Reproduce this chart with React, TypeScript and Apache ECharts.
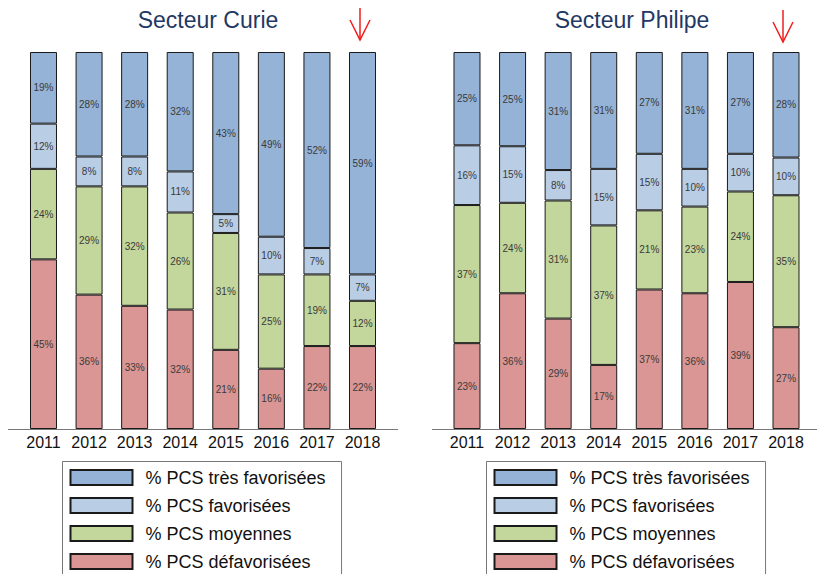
import React, { useEffect, useRef } from "react";
import * as echarts from "echarts";

const years = ["2011", "2012", "2013", "2014", "2015", "2016", "2017", "2018"];
const seriesNames = ["% PCS très favorisées", "% PCS favorisées", "% PCS moyennes", "% PCS défavorisées"];
const colors = ["#95B3D7", "#B9CDE5", "#C3D69B", "#D99694"];

const curieTresFav = [19, 28, 28, 32, 43, 49, 52, 59];
const curieFav = [12, 8, 8, 11, 5, 10, 7, 7];
const curieMoy = [24, 29, 32, 26, 31, 25, 19, 12];
const curieDefav = [45, 36, 33, 32, 21, 16, 22, 22];

const philTresFav = [25, 25, 31, 31, 27, 31, 27, 28];
const philFav = [16, 15, 8, 15, 15, 10, 10, 10];
const philMoy = [37, 24, 31, 37, 21, 23, 24, 35];
const philDefav = [23, 36, 29, 17, 37, 36, 39, 27];

const titles = ["Secteur Curie", "Secteur Philipe"];

const FONT = "'Liberation Sans', Arial, sans-serif";

function buildSeries(groups: number[][], axisIndex: number) {
  const totals = years.map((_, i) => groups.reduce((s, g) => s + g[i], 0));
  const order = [3, 2, 1, 0];
  return order.map((k) => ({
    type: "bar",
    name: seriesNames[k],
    xAxisIndex: axisIndex,
    yAxisIndex: axisIndex,
    stack: "s" + axisIndex,
    barWidth: 27,
    itemStyle: { color: colors[k], borderColor: "#1a1a1a", borderWidth: 1 },
    label: {
      show: true,
      position: "inside",
      fontSize: 10,
      fontFamily: FONT,
      color: "#3a3a3a",
      formatter: (p: any) => p.data.raw + "%",
    },
    data: groups[k].map((v, i) => ({ value: (v / totals[i]) * 100, raw: v })),
  }));
}

export default function App() {
  const ref = useRef<HTMLDivElement>(null);
  useEffect(() => {
    if (!ref.current) return;
    const chart = echarts.init(ref.current, undefined, { renderer: "svg" });
    const gridTop = 52;
    const gridH = 377;
    const grids = [
      { left: 20.7, top: gridTop, width: 364.6, height: gridH },
      { left: 444.2, top: gridTop, width: 364.6, height: gridH },
    ];
    const xAxes = grids.map((_, i) => ({
      type: "category",
      gridIndex: i,
      data: years,
      axisLine: { show: false },
      axisTick: { show: false },
      axisLabel: { interval: 0, fontSize: 16, color: "#111", fontFamily: FONT, margin: 5 },
    }));
    const yAxes = grids.map((_, i) => ({
      type: "value",
      gridIndex: i,
      min: 0,
      max: 100,
      show: false,
      splitLine: { show: false },
    }));
    const legendCommon = {
      orient: "vertical",
      top: 461.5,
      itemWidth: 62,
      itemHeight: 15,
      itemGap: 10,
      borderColor: "#777",
      borderWidth: 1,
      padding: [7, 16, 10, 7],
      icon: "rect",
      textStyle: { fontSize: 18, color: "#111", fontFamily: FONT, padding: [0, 0, 0, 8] },
      data: seriesNames,
      selectedMode: false,
    };
    chart.setOption({
      animation: false,
      backgroundColor: "#fff",
      title: [
        {
          text: titles[0],
          left: 203,
          textAlign: "center",
          top: 3,
          textStyle: { fontSize: 23, fontWeight: "normal", color: "#1F3864", fontFamily: FONT },
        },
        {
          text: titles[1],
          left: 627,
          textAlign: "center",
          top: 3,
          textStyle: { fontSize: 23, fontWeight: "normal", color: "#1F3864", fontFamily: FONT },
        },
      ],
      legend: [
        { ...legendCommon, left: 62.5 },
        { ...legendCommon, left: 486.5 },
      ],
      grid: grids,
      xAxis: xAxes,
      yAxis: yAxes,
      series: [
        ...buildSeries([curieTresFav, curieFav, curieMoy, curieDefav], 0),
        ...buildSeries([philTresFav, philFav, philMoy, philDefav], 1),
      ],
    });

    const axisY = gridTop + gridH + 0.5;
    const arrows: any[] = [];
    [0, 1].forEach((i) => {
      const x = chart.convertToPixel({ xAxisIndex: i }, years[years.length - 1]) as number;
      const ax = Math.round(x) - 3;
      arrows.push(
        {
          type: "line",
          shape: { x1: ax, y1: 8 + i * 2, x2: ax, y2: 40 + i * 2 },
          style: { stroke: "#F21D1D", lineWidth: 1.5 },
        },
        {
          type: "polyline",
          shape: { points: [[ax - 10, 20 + i * 2], [ax, 40 + i * 2], [ax + 10, 20 + i * 2]] },
          style: { stroke: "#F21D1D", lineWidth: 1.5, fill: null },
        }
      );
    });
    chart.setOption({
      graphic: [
        {
          type: "line",
          shape: { x1: 8, y1: axisY, x2: 398, y2: axisY },
          style: { stroke: "#777", lineWidth: 1 },
        },
        {
          type: "line",
          shape: { x1: 432, y1: axisY, x2: 817, y2: axisY },
          style: { stroke: "#777", lineWidth: 1 },
        },
        ...arrows,
      ],
    });
    return () => chart.dispose();
  }, []);
  return (
    <div
      ref={ref}
      style={{ position: "fixed", left: 0, top: 0, width: 817, height: 640, background: "#fff" }}
    />
  );
}
